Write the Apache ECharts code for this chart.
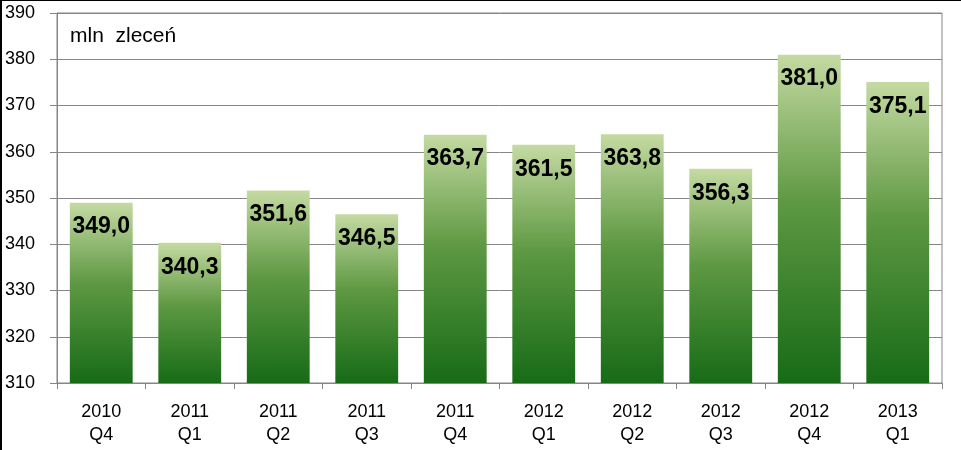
<!DOCTYPE html>
<html>
<head>
<meta charset="utf-8">
<script src="https://cdn.jsdelivr.net/npm/echarts@6/dist/echarts.min.js"></script>
<style>
html,body{margin:0;padding:0;background:#fff;}
#c{width:961px;height:450px;}
</style>
</head>
<body>
<div id="c"></div>
<script>
var years = ['2010','2011','2011','2011','2011','2012','2012','2012','2012','2013'];
var quarters = ['Q4','Q1','Q2','Q3','Q4','Q1','Q2','Q3','Q4','Q1'];
var values = [349.0, 340.3, 351.6, 346.5, 363.7, 361.5, 363.8, 356.3, 381.0, 375.1];
var yTicks = [310, 320, 330, 340, 350, 360, 370, 380, 390];
var unitLabel = 'mln  zleceń';

var categories = years.map(function(y, i){ return y + '\n' + quarters[i]; });
var font = '"Liberation Sans", Arial, sans-serif';

var chart = echarts.init(document.getElementById('c'), null, {renderer: 'canvas'});
chart.setOption({
  animation: false,
  backgroundColor: '#ffffff',
  grid: {
    left: 57, right: 19, top: 13, bottom: 67,
    show: true, borderColor: '#868686', borderWidth: 1, backgroundColor: 'transparent'
  },
  xAxis: {
    type: 'category',
    data: categories,
    axisLine: {show: true, lineStyle: {color: '#868686', width: 1}},
    axisTick: {show: true, length: 6, alignWithLabel: false, lineStyle: {color: '#868686'}},
    axisLabel: {
      color: '#000', fontFamily: font, fontSize: 18, lineHeight: 23, margin: 18, interval: 0
    }
  },
  yAxis: {
    type: 'value',
    min: yTicks[0], max: yTicks[yTicks.length - 1], interval: 10,
    axisLine: {show: true, lineStyle: {color: '#868686', width: 1}},
    axisTick: {show: true, length: 7, inside: false, lineStyle: {color: '#868686'}},
    splitLine: {show: true, lineStyle: {color: '#868686', width: 1}},
    axisLabel: {color: '#000', fontFamily: font, fontSize: 18, margin: 22, align: 'right'}
  },
  series: [{
    type: 'bar',
    data: values,
    barCategoryGap: '29%',
    itemStyle: {
      color: new echarts.graphic.LinearGradient(0, 0, 0, 1, [
        {offset: 0, color: '#c4daa2'},
        {offset: 0.45, color: '#5e9842'},
        {offset: 1, color: '#176b17'}
      ])
    },
    label: {
      show: true,
      position: 'insideTop',
      distance: 13,
      color: '#000',
      fontFamily: font,
      fontWeight: 'bold',
      fontSize: 23,
      formatter: function(p){ return p.value.toFixed(1).replace('.', ','); }
    }
  }],
  graphic: [
    {type: 'text', left: 70, top: 26, style: {text: unitLabel, fill: '#000', font: '21px ' + font}},
    {type: 'rect', shape: {x: 0, y: 0, width: 2, height: 450}, style: {fill: '#000'}},
    {type: 'rect', shape: {x: 0, y: 0, width: 961, height: 1}, style: {fill: '#000'}}
  ]
});
</script>
</body>
</html>
